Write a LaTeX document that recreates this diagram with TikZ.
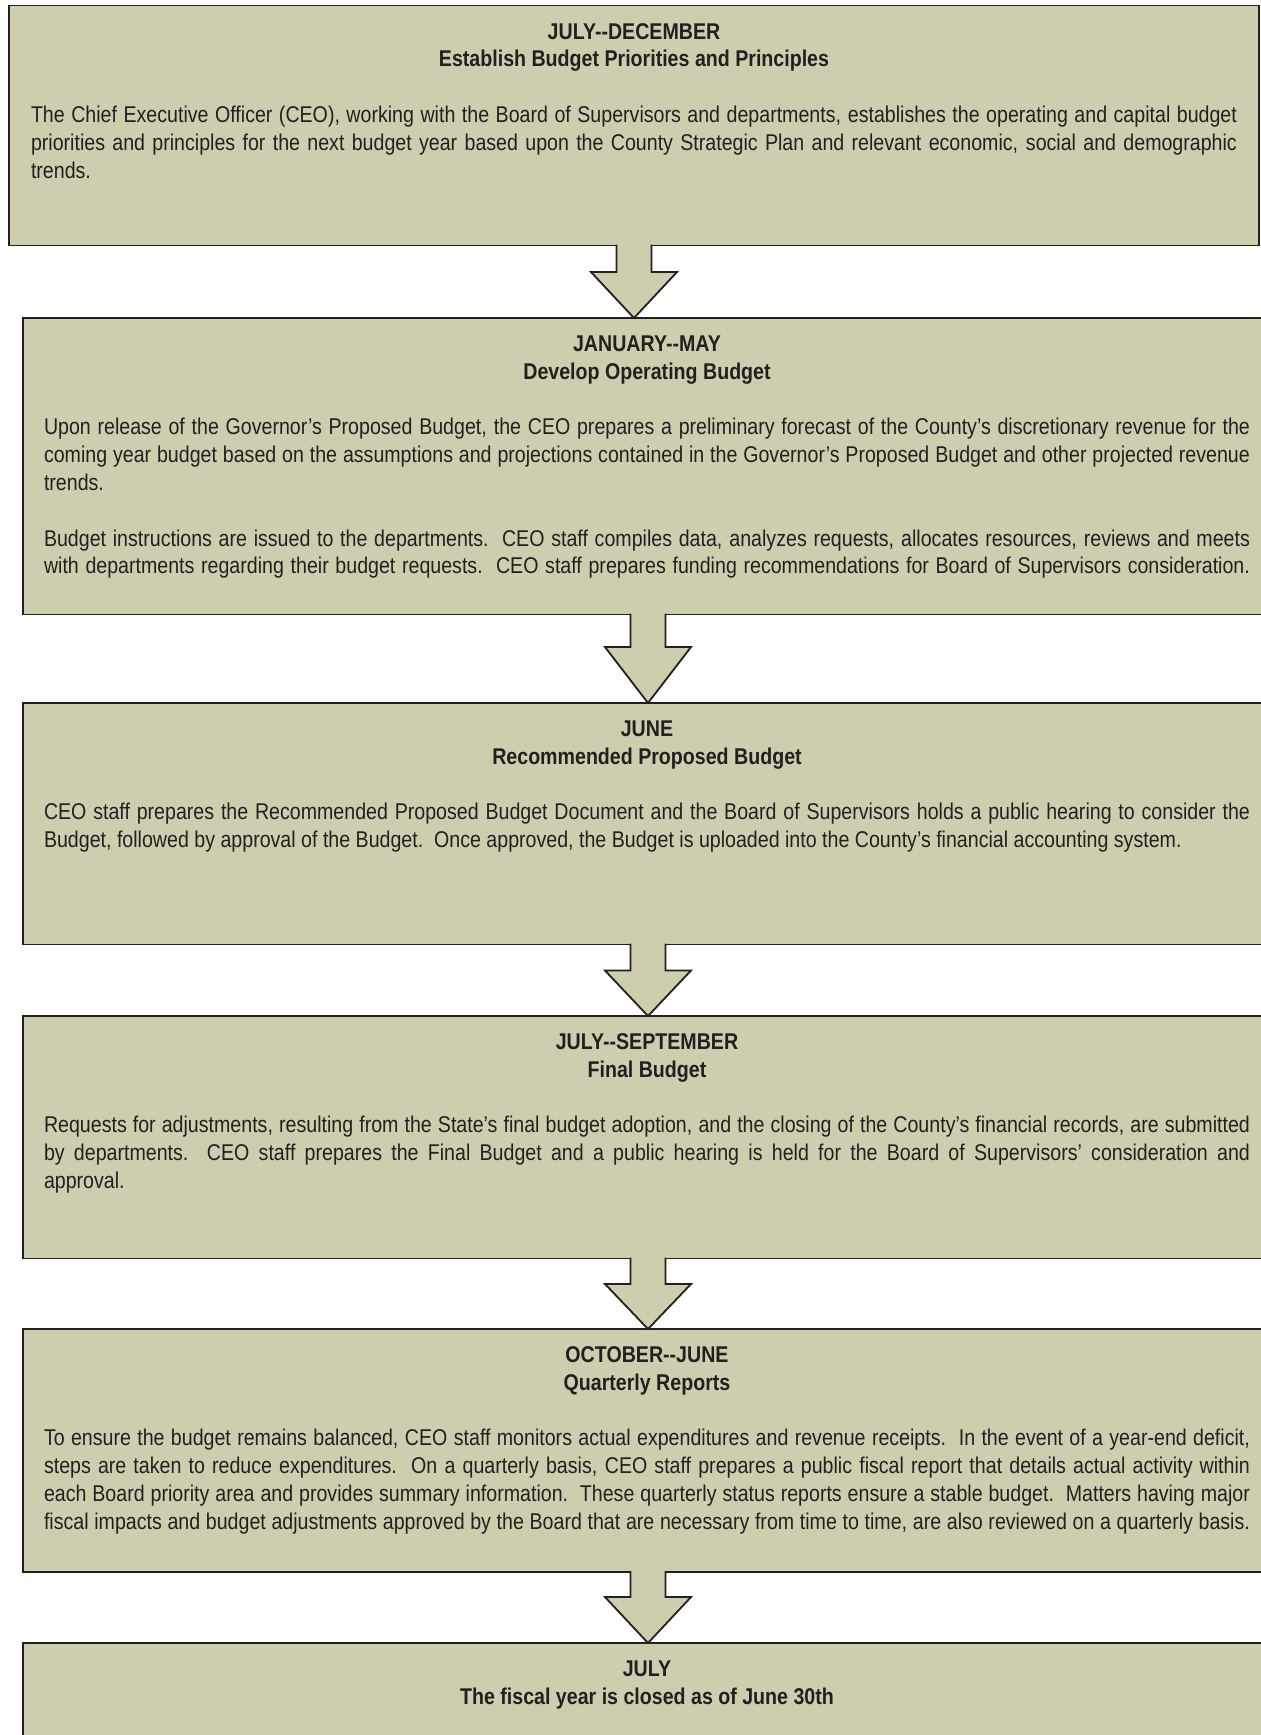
\documentclass[tikz,border=0pt]{standalone}
\usepackage{fontspec}
\setmainfont{Liberation Sans}[FakeStretch=0.86]
\usetikzlibrary{calc}

\definecolor{panel}{RGB}{206,206,175}
\definecolor{ink}{RGB}{35,31,32}

% one justified line, one ragged (last) line, one centred bold heading line
\newcommand\JustLine[1]{\hbox to 1206pt{#1}}
\newcommand\PlainLine[1]{\hbox{#1}}
\newcommand\HeadLine[1]{\hbox to 1206pt{\hfil\bfseries #1\hfil}}
\newcommand\ParGap{\vskip27.8pt}
\newcommand\DD{-\kern0pt-}

% block arrow from the bottom of one stage to the top of the next
\newcommand\BlockArrow[3]{%
  \fill[panel] ($(#1.south)+(-17.5pt,1.6pt)$)
    -- ($(#1.south |- #2.north)+(-17.5pt,#3)$)
    -- ($(#1.south |- #2.north)+(-43pt,#3)$)
    -- (#1.south |- #2.north)
    -- ($(#1.south |- #2.north)+(43pt,#3)$)
    -- ($(#1.south |- #2.north)+(17.5pt,#3)$)
    -- ($(#1.south)+(17.5pt,1.6pt)$) -- cycle;
  \draw[arrowline] ($(#1.south)+(-17.5pt,0.9pt)$)
    -- ($(#1.south |- #2.north)+(-17.5pt,#3)$)
    -- ($(#1.south |- #2.north)+(-43pt,#3)$)
    -- (#1.south |- #2.north)
    -- ($(#1.south |- #2.north)+(43pt,#3)$)
    -- ($(#1.south |- #2.north)+(17.5pt,#3)$)
    -- ($(#1.south)+(17.5pt,0.9pt)$);
}

\begin{document}
\begin{tikzpicture}[x=1pt,y=-1pt,
  stage/.style={rectangle, draw=ink, line width=1.8pt, fill=panel,
    inner sep=0pt, outer sep=0pt, minimum width=1250pt, anchor=north west},
  copy/.style={anchor=base west, inner sep=0pt, outer sep=0pt, text=ink,
    font=\fontsize{22.8pt}{27.8pt}\selectfont},
  arrowline/.style={draw=ink, line width=1.8pt, line join=miter}]

\useasboundingbox (0,0) rectangle (1261,1735);
\fill[white] (0,0) rectangle (1261,1735);
\clip (0,0) rectangle (1261,1735);

% stages
\node[stage, minimum height=240pt]   (s1) at (9,5.5) {};
\node[stage, minimum height=296.5pt] (s2) at (23,318) {};
\node[stage, minimum height=241.5pt] (s3) at (23,703) {};
\node[stage, minimum height=242.5pt] (s4) at (23,1016) {};
\node[stage, minimum height=243pt]   (s5) at (23,1329) {};
\node[stage, minimum height=242pt]   (s6) at (23,1643) {};

% connectors
\BlockArrow{s1}{s2}{46pt}
\BlockArrow{s2}{s3}{56pt}
\BlockArrow{s3}{s4}{45.5pt}
\BlockArrow{s4}{s5}{45pt}
\BlockArrow{s5}{s6}{46pt}

% texts
\node[copy] (t1) at ($(s1.north west)+(22pt,-33.5pt)$) {\vtop{%
  \HeadLine{JULY\DD DECEMBER}
  \HeadLine{Establish Budget Priorities and Principles}
  \ParGap
  \JustLine{The Chief Executive Officer (CEO), working with the Board of Supervisors and departments, establishes the operating and capital budget}
  \JustLine{priorities and principles for the next budget year based upon the County Strategic Plan and relevant economic, social and demographic}
  \PlainLine{trends.}}};

\node[copy] (t2) at ($(s2.north west)+(21pt,-33.5pt)$) {\vtop{%
  \HeadLine{JANUARY\DD MAY}
  \HeadLine{Develop Operating Budget}
  \ParGap
  \JustLine{Upon release of the Governor’s Proposed Budget, the CEO prepares a preliminary forecast of the County’s discretionary revenue for the}
  \JustLine{coming year budget based on the assumptions and projections contained in the Governor’s Proposed Budget and other projected revenue}
  \PlainLine{trends.}
  \ParGap
  \JustLine{Budget instructions are issued to the departments.\ \ CEO staff compiles data, analyzes requests, allocates resources, reviews and meets}
  \JustLine{with departments regarding their budget requests.\ \ CEO staff prepares funding recommendations for Board of Supervisors consideration.}}};

\node[copy] (t3) at ($(s3.north west)+(21pt,-33.5pt)$) {\vtop{%
  \HeadLine{JUNE}
  \HeadLine{Recommended Proposed Budget}
  \ParGap
  \JustLine{CEO staff prepares the Recommended Proposed Budget Document and the Board of Supervisors holds a public hearing to consider the}
  \PlainLine{Budget, followed by approval of the Budget.\ \ Once approved, the Budget is uploaded into the County’s financial accounting system.}}};

\node[copy] (t4) at ($(s4.north west)+(21pt,-33.5pt)$) {\vtop{%
  \HeadLine{JULY\DD SEPTEMBER}
  \HeadLine{Final Budget}
  \ParGap
  \JustLine{Requests for adjustments, resulting from the State’s final budget adoption, and the closing of the County’s financial records, are submitted}
  \JustLine{by departments.\ \ CEO staff prepares the Final Budget and a public hearing is held for the Board of Supervisors’ consideration and}
  \PlainLine{approval.}}};

\node[copy] (t5) at ($(s5.north west)+(21pt,-33.5pt)$) {\vtop{%
  \HeadLine{OCTOBER\DD JUNE}
  \HeadLine{Quarterly Reports}
  \ParGap
  \JustLine{To ensure the budget remains balanced, CEO staff monitors actual expenditures and revenue receipts.\ \ In the event of a year-end deficit,}
  \JustLine{steps are taken to reduce expenditures.\ \ On a quarterly basis, CEO staff prepares a public fiscal report that details actual activity within}
  \JustLine{each Board priority area and provides summary information.\ \ These quarterly status reports ensure a stable budget.\ \ Matters having major}
  \JustLine{fiscal impacts and budget adjustments approved by the Board that are necessary from time to time, are also reviewed on a quarterly basis.}}};

\node[copy] (t6) at ($(s6.north west)+(21pt,-33.5pt)$) {\vtop{%
  \HeadLine{JULY}
  \HeadLine{The fiscal year is closed as of June 30th}}};

\end{tikzpicture}
\end{document}
